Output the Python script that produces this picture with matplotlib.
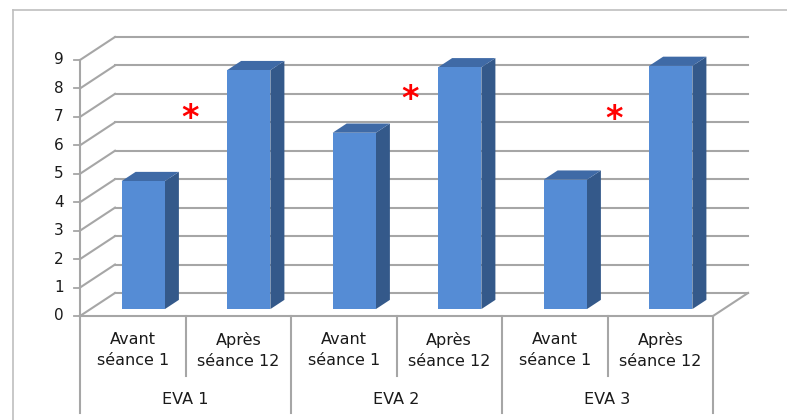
import matplotlib
matplotlib.use("Agg")
import matplotlib.pyplot as plt
from matplotlib.patches import Polygon
from matplotlib.lines import Line2D

# ── data ──────────────────────────────────────────────────────────────────────
groups   = ["EVA 1", "EVA 2", "EVA 3"]
sessions = ["Avant\nséance 1", "Après\nséance 12"]
values   = [4.5, 8.4, 6.2, 8.5, 4.55, 8.55]
yticks   = list(range(0, 10))
# significance stars: (x in category units, y in value units)
star_x   = [1.04, 3.13, 5.06]
star_y   = [6.95, 7.6, 6.9]

# ── style ─────────────────────────────────────────────────────────────────────
FRONT = "#558CD5"
SIDE  = "#34598A"
TOP   = "#3F6AA6"
GRID  = "#A6A6A6"
TXT   = "#1A1A1A"
plt.rcParams["font.family"] = ["DejaVu Sans"]

n_cat = len(values)
dx, dy = 0.332, 0.81        # wall depth in data units
bw = 0.41                   # bar width
d0, d1 = 0.3, 0.7           # bar depth span (fraction of wall depth)

fig = plt.figure(figsize=(7.87, 4.2), dpi=100)
ax = fig.add_axes([80 / 787, 1 - 316 / 420, 633 / 787, 256 / 420])
ax.set_xlim(0, n_cat)
ax.set_ylim(0, 9)
ax.axis("off")

# chart border
fig.add_artist(Line2D([13 / 787, 13 / 787], [0, 1 - 10 / 420], color="#BFBFBF", lw=1.2))
fig.add_artist(Line2D([13 / 787, 1], [1 - 10 / 420, 1 - 10 / 420], color="#BFBFBF", lw=1.2))

# back wall gridlines + side wall diagonals
for v in yticks:
    ax.plot([dx, n_cat + dx], [v + dy, v + dy], color=GRID, lw=1.5, clip_on=False, zorder=1)
    ax.plot([0, dx], [v, v + dy], color=GRID, lw=1.5, clip_on=False, zorder=1)
    ax.plot([-0.06, 0], [v, v], color=GRID, lw=1.3, clip_on=False, zorder=1)
    ax.text(-0.2, v, str(v), ha="center", va="center", fontsize=11, color=TXT)

# front y axis, floor edges
ax.plot([0, 0], [0, 9], color=GRID, lw=1.5, clip_on=False, zorder=1)
ax.plot([0, n_cat], [0, 0], color=GRID, lw=1.5, clip_on=False, zorder=1)
ax.plot([n_cat, n_cat + dx], [0, dy], color=GRID, lw=1.5, clip_on=False, zorder=1)

# 3D bars
for i, v in enumerate(values):
    x0 = i + 0.5 - bw / 2 + d0 * dx
    x1 = x0 + bw
    yb = d0 * dy
    ddx, ddy = (d1 - d0) * dx, (d1 - d0) * dy
    front = [(x0, yb), (x1, yb), (x1, yb + v), (x0, yb + v)]
    side = [(x1, yb), (x1 + ddx, yb + ddy), (x1 + ddx, yb + v + ddy), (x1, yb + v)]
    top = [(x0, yb + v), (x1, yb + v), (x1 + ddx, yb + v + ddy), (x0 + ddx, yb + v + ddy)]
    for pts, col in [(side, SIDE), (top, TOP), (front, FRONT)]:
        ax.add_patch(Polygon(pts, closed=True, facecolor=col, edgecolor="none",
                             clip_on=False, zorder=3))

# category labels and separators
for i in range(n_cat):
    ax.text(i + 0.5, -0.58, sessions[i % 2], ha="center", va="top",
            fontsize=11.5, color=TXT, linespacing=1.45)
for b in range(n_cat + 1):
    bottom = -3.4 if b % 2 == 0 else -2.1
    ax.plot([b, b], [0, bottom], color=GRID, lw=1.5, clip_on=False, zorder=1)
for g, name in enumerate(groups):
    ax.text(2 * g + 1, -2.95, name, ha="center", va="center",
            fontsize=11.5, color=TXT)

# significance stars
for sx, sy in zip(star_x, star_y):
    ax.text(sx, sy, "*", ha="center", va="center", fontsize=24,
            fontweight="bold", color="red", zorder=4)

fig.savefig("out.png", dpi=100)
